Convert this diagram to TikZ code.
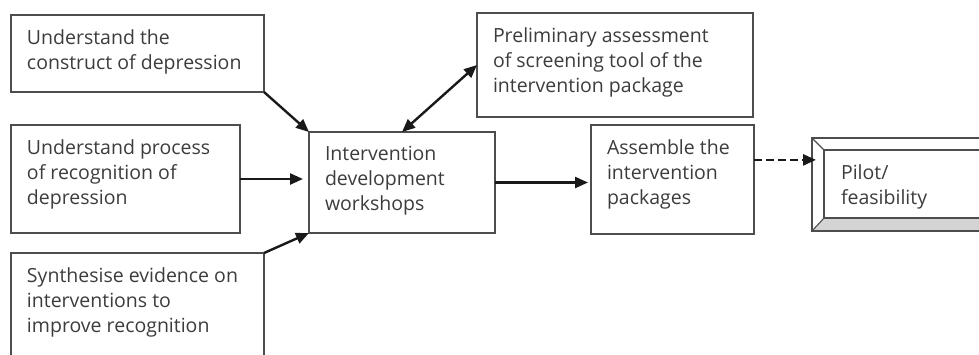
\documentclass[tikz,border=0pt]{standalone}
\usepackage{fontspec}
\setmainfont{Open Sans}
\usetikzlibrary{arrows.meta,calc}
\definecolor{ink}{HTML}{3C3C3C}
\definecolor{edge}{HTML}{4D4D4D}
\definecolor{bevel}{HTML}{D4D4D4}
% text block inside a stage box: width, height, lines
\newcommand\boxlines[3]{\hspace*{16pt}\parbox[c][#2][t]{\dimexpr#1-16pt\relax}{\vspace*{14.5pt}\raggedright#3}}
\tikzset{
  stage/.style={draw=edge, line width=1.3pt, inner sep=0pt, outer sep=0pt, anchor=north west, text=ink},
  frame/.style={draw=edge, line width=1.3pt},
  flow/.style={draw=black!90, line width=2.4pt, ->},
  >={Triangle[length=13pt,width=11pt]},
}
\begin{document}
\begin{tikzpicture}[x=1pt,y=-1pt,font=\fontsize{19.5}{25}\selectfont]
\useasboundingbox (0,0) rectangle (979,354);
\clip (0,0) rectangle (979,354);

% input stages
\node[stage] (und) at (11,15) {\boxlines{253pt}{77pt}{Understand the\\construct of depression}};
\node[stage] (rec) at (11,125) {\boxlines{229pt}{108pt}{Understand process\\of recognition of\\depression}};
\node[stage, draw=none] (syn) at (11,253) {\boxlines{253pt}{110pt}{Synthesise evidence on\\interventions to\\improve recognition}};
\draw[frame] (syn.south west) -- (syn.north west) -- (syn.north east) -- (syn.south east);

% workshops and outputs
\node[stage] (ws) at (309,132) {\boxlines{186pt}{101pt}{Intervention\\development\\workshops}};
\node[stage] (pre) at (477,13) {\boxlines{276pt}{104pt}{Preliminary assessment\\of screening tool of the\\intervention package}};
\node[stage] (asm) at (591,125) {\boxlines{163pt}{109pt}{Assemble the\\intervention\\packages}};

% bevelled pilot box
\node[stage, draw=none] (pilot) at (812,138) {\hspace*{29pt}\parbox[c][93pt][t]{151pt}{\vspace*{27pt}\raggedright Pilot/\\feasibility}};
\coordinate (pin-nw) at ([shift={(12,12)}]pilot.north west);
\coordinate (pin-sw) at ([shift={(12,-13)}]pilot.south west);
\coordinate (pin-se) at ([shift={(-12,-13)}]pilot.south east);
\coordinate (pin-ne) at ([shift={(-12,12)}]pilot.north east);
\fill[bevel] (pilot.south west) -- (pin-sw) -- (pin-se) -- (pilot.south east) -- cycle;
\draw[frame, line width=1.1pt] (pilot.south west) rectangle (pilot.north east);
\draw[frame, line width=1.1pt] (pin-sw) rectangle (pin-ne);
\draw[frame, line width=1.1pt] (pilot.north west) -- (pin-nw);
\draw[frame, line width=1.1pt] (pilot.south west) -- (pin-sw);

% connectors
\draw[flow] (und.south east) -- (ws.north west);
\draw[flow] (rec.east) -- ([xshift=-6pt]rec.east -| ws.west);
\draw[flow] (syn.north east) -- (ws.south west);
\draw[flow, <->] (ws.north) -- (pre.west);
\draw[flow] (ws.east) -- ([xshift=-3pt]ws.east -| asm.west);
\coordinate (d0) at ($(asm.north east)!0.32!(asm.south east)$);
\draw[flow, line width=2.6pt, dash pattern=on 8pt off 4pt] (d0) -- ([xshift=4pt]d0 -| pilot.west);
\end{tikzpicture}
\end{document}
